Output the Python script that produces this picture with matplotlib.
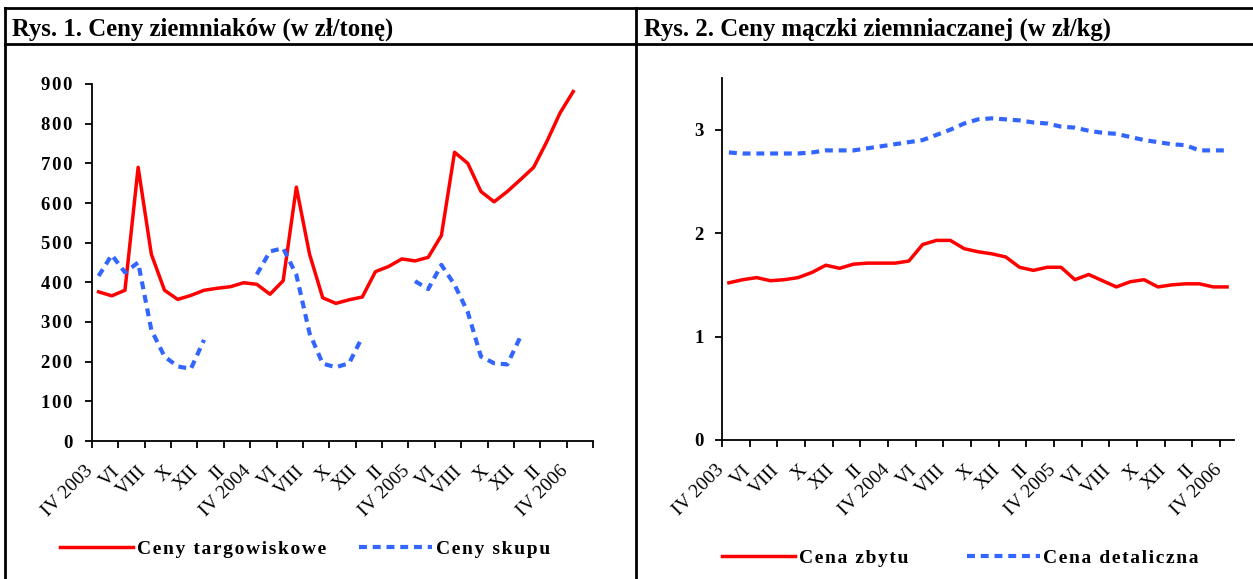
import numpy as np
import matplotlib
matplotlib.use('Agg')
from matplotlib import pyplot as plt
from matplotlib.lines import Line2D
from matplotlib.transforms import ScaledTranslation
from matplotlib.ticker import FuncFormatter

plt.rcParams['font.family'] = ['Liberation Serif', 'DejaVu Serif']

# etykiety osi X (co drugi miesiac)
month_labels = ['IV 2003', 'VI', 'VIII', 'X', 'XII', 'II', 'IV 2004', 'VI', 'VIII', 'X', 'XII', 'II',
                'IV 2005', 'VI', 'VIII', 'X', 'XII', 'II', 'IV 2006']

# Rys. 1 - ceny ziemniakow (zl/tone), dane miesieczne od IV 2003
ceny_targowiskowe = [376, 366, 380, 690, 471, 380, 357, 367, 380, 385, 389, 399, 395, 370, 404, 640, 471,
                     361, 347, 356, 363, 427, 440, 459, 454, 463, 518, 728, 700, 629, 603, 629, 659, 690,
                     755, 827, 881]
ceny_skupu = [416, 469, 425, 450, 280, 213, 188, 182, 255, np.nan, np.nan, np.nan,
              420, 478, 486, 419, 272, 195, 186, 196, 262, np.nan, np.nan, np.nan,
              403, 383, 444, 394, 325, 213, 196, 193, 263, np.nan, np.nan, np.nan, np.nan]

# Rys. 2 - ceny maczki ziemniaczanej (zl/kg)
cena_zbytu = [1.52, 1.55, 1.57, 1.54, 1.55, 1.57, 1.62, 1.69, 1.66, 1.70, 1.71, 1.71, 1.71, 1.73, 1.89,
              1.93, 1.93, 1.85, 1.82, 1.80, 1.77, 1.67, 1.64, 1.67, 1.67, 1.55, 1.60, 1.54, 1.48, 1.53,
              1.55, 1.48, 1.50, 1.51, 1.51, 1.48, 1.48]
cena_detaliczna = [2.78, 2.77, 2.77, 2.77, 2.77, 2.77, 2.78, 2.80, 2.80, 2.80, 2.82, 2.84, 2.86, 2.88,
                   2.90, 2.95, 3.00, 3.06, 3.10, 3.11, 3.10, 3.09, 3.07, 3.06, 3.03, 3.02, 2.99, 2.97,
                   2.96, 2.93, 2.90, 2.88, 2.86, 2.85, 2.80, 2.80, 2.80]

RED = '#ff0000'
BLUE = '#3366ff'
W, H = 1253, 579


def spaced(text, sep='\u200a'):
    return sep.join(text)


fig = plt.figure(figsize=(W / 100, H / 100), dpi=100)

# ramka tabeli
frame = dict(transform=fig.transFigure, color='black', lw=2.0)
fig.add_artist(Line2D([5 / W, 1], [1 - 7.5 / H, 1 - 7.5 / H], **frame))
fig.add_artist(Line2D([5 / W, 1], [1 - 44 / H, 1 - 44 / H], **frame))
fig.add_artist(Line2D([5 / W, 5 / W], [0, 1 - 7.5 / H], **frame))
fig.add_artist(Line2D([636 / W, 636 / W], [0, 1 - 7.5 / H], **frame))

fig.text(12 / W, 1 - 29 / H, 'Rys. 1. Ceny ziemniaków (w zł/tonę)', weight='bold', size=17.8, va='center')
fig.text(644 / W, 1 - 29 / H, 'Rys. 2. Ceny mączki ziemniaczanej (w zł/kg)', weight='bold', size=17.8,
         va='center')

ax1 = fig.add_axes([92 / W, 1 - 441 / H, (593 - 92) / W, (441 - 84) / H])
ax2 = fig.add_axes([722 / W, 1 - 440 / H, (1234 - 722) / W, (440 - 78) / H])


def style_axis(ax, n_slots, ypad):
    ax.set_xlim(-0.5, n_slots - 0.5)
    for s in ['top', 'right']:
        ax.spines[s].set_visible(False)
    for s in ['left', 'bottom']:
        ax.spines[s].set_linewidth(1.3)
    ax.set_xticks(np.arange(-0.5, n_slots - 0.4, 2))
    ax.set_xticklabels([])
    ax.set_xticks(np.arange(0, 2 * len(month_labels), 2), minor=True)
    ax.set_xticklabels(month_labels, minor=True, rotation=45, ha='right', va='center',
                       rotation_mode='anchor', size=14)
    ax.tick_params(axis='x', which='minor', length=0, pad=20)
    ax.tick_params(axis='both', which='major', direction='out', length=5, width=1.3)
    ax.tick_params(axis='y', pad=ypad)
    offset = ScaledTranslation(-0.08, 0, fig.dpi_scale_trans)
    for lab in ax.get_xticklabels(minor=True):
        lab.set_transform(lab.get_transform() + offset)
    for lab in ax.get_yticklabels():
        lab.set_fontweight('bold')
        lab.set_fontsize(13.5)


# Rys. 1
x1 = np.arange(len(ceny_targowiskowe))
ax1.plot(x1, ceny_targowiskowe, color=RED, lw=2.5, label=spaced('Ceny targowiskowe'))
ax1.plot(x1, ceny_skupu, color=BLUE, lw=3.0, dashes=(1.9, 1.4), label=spaced('Ceny skupu'))
ax1.set_ylim(0, 900)
ax1.set_yticks(range(0, 901, 100))
ax1.yaxis.set_major_formatter(FuncFormatter(lambda v, p: spaced(str(int(v)))))
style_axis(ax1, 38, 9)
ax1.legend(loc='center left', bbox_to_anchor=(60 / W, 1 - 549 / H), bbox_transform=fig.transFigure,
           ncol=2, frameon=False, handlelength=3.75, handletextpad=0.2, columnspacing=1.7,
           borderpad=0, borderaxespad=0, prop=dict(weight='bold', size=14))

# Rys. 2
x2 = np.arange(len(cena_zbytu))
ax2.plot(x2, cena_zbytu, color=RED, lw=2.5, label=spaced('Cena zbytu'))
ax2.plot(x2, cena_detaliczna, color=BLUE, lw=3.0, dashes=(1.9, 1.4), label=spaced('Cena detaliczna'))
ax2.set_ylim(0, 3.5)
ax2.set_yticks([0, 1, 2, 3])
ax2.yaxis.set_major_formatter(FuncFormatter(lambda v, p: str(int(v))))
style_axis(ax2, 37, 8)
ax2.legend(loc='center left', bbox_to_anchor=(722 / W, 1 - 558 / H), bbox_transform=fig.transFigure,
           ncol=2, frameon=False, handlelength=3.75, handletextpad=0.2, columnspacing=3.0,
           borderpad=0, borderaxespad=0, prop=dict(weight='bold', size=14))

plt.savefig('out.png', dpi=100)
